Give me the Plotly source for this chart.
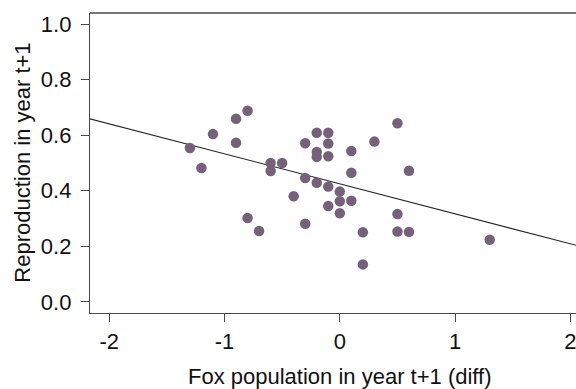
import plotly.graph_objects as go
import numpy as np

# Data
fox_diff = [-1.3, -1.2, -1.1, -0.9, -0.9, -0.8, -0.8, -0.7, -0.6, -0.6,
            -0.5, -0.4, -0.3, -0.3, -0.3, -0.2, -0.2, -0.2, -0.2, -0.1,
            -0.1, -0.1, -0.1, -0.1, 0.0, 0.0, 0.0, 0.1, 0.1, 0.1,
            0.2, 0.2, 0.3, 0.5, 0.5, 0.5, 0.6, 0.6, 1.3]
reproduction = [0.554, 0.482, 0.604, 0.659, 0.573, 0.688, 0.302, 0.255, 0.500, 0.471,
                0.500, 0.380, 0.571, 0.446, 0.281, 0.609, 0.540, 0.522, 0.429, 0.609,
                0.570, 0.524, 0.415, 0.345, 0.397, 0.362, 0.319, 0.543, 0.465, 0.364,
                0.251, 0.135, 0.577, 0.643, 0.316, 0.253, 0.472, 0.252, 0.224]

line_intercept = 0.425
line_slope = -0.108

x_ticks = [-2, -1, 0, 1, 2]
y_ticks = [0.0, 0.2, 0.4, 0.6, 0.8, 1.0]
y_tick_labels = ["0.0", "0.2", "0.4", "0.6", "0.8", "1.0"]

x_title = "Fox population in year t+1 (diff)"
y_title = "Reproduction in year t+1"

FONT = "Liberation Sans, Arial, Helvetica, sans-serif"
AXIS_COLOR = "#4a4a4a"
TEXT_COLOR = "#111111"
FS = 22

fig = go.Figure()

line_x = np.array([-2.5, 2.5])
fig.add_trace(go.Scatter(
    x=line_x, y=line_intercept + line_slope * line_x,
    mode="lines", line=dict(color="#262626", width=1.1),
    hoverinfo="skip", showlegend=False))

fig.add_trace(go.Scatter(
    x=fox_diff, y=reproduction, mode="markers",
    marker=dict(color="#75627a", size=10.5, line=dict(width=0)),
    showlegend=False))

fig.update_layout(
    width=576, height=389,
    margin=dict(l=90, r=0, t=13, b=76, autoexpand=False),
    paper_bgcolor="white", plot_bgcolor="white",
    font=dict(family=FONT, size=FS, color=TEXT_COLOR),
    xaxis=dict(range=[-2.1665, 2.0486], tickmode="array", tickvals=x_ticks,
               ticktext=[str(v) for v in x_ticks], ticklabeloverflow="allow",
               showgrid=False, zeroline=False, showline=True, linecolor=AXIS_COLOR,
               linewidth=1.3, ticks="outside", ticklen=8, tickcolor=AXIS_COLOR,
               tickwidth=1.3, automargin=False),
    yaxis=dict(range=[-0.04, 1.04], tickmode="array", tickvals=y_ticks,
               ticktext=y_tick_labels, ticklabelstandoff=5,
               showgrid=False, zeroline=False, showline=True, linecolor=AXIS_COLOR,
               linewidth=1.3, ticks="outside", ticklen=8, tickcolor=AXIS_COLOR,
               tickwidth=1.3, automargin=False),
    shapes=[dict(type="line", xref="paper", yref="paper", x0=0, x1=1.01, y0=1, y1=1,
                 line=dict(color=AXIS_COLOR, width=1.3))],
    annotations=[
        dict(text=x_title, xref="x", yref="paper", x=0, y=-0.212,
             xanchor="center", yanchor="middle", showarrow=False,
             font=dict(family=FONT, size=FS, color=TEXT_COLOR)),
        dict(text=y_title, xref="paper", yref="paper", x=-0.1405, y=0.5,
             xanchor="center", yanchor="middle", textangle=-90, showarrow=False,
             font=dict(family=FONT, size=FS, color=TEXT_COLOR)),
    ],
)

fig.write_html("out.html", config={"displayModeBar": False},
               post_script="document.body.style.margin='0';")
